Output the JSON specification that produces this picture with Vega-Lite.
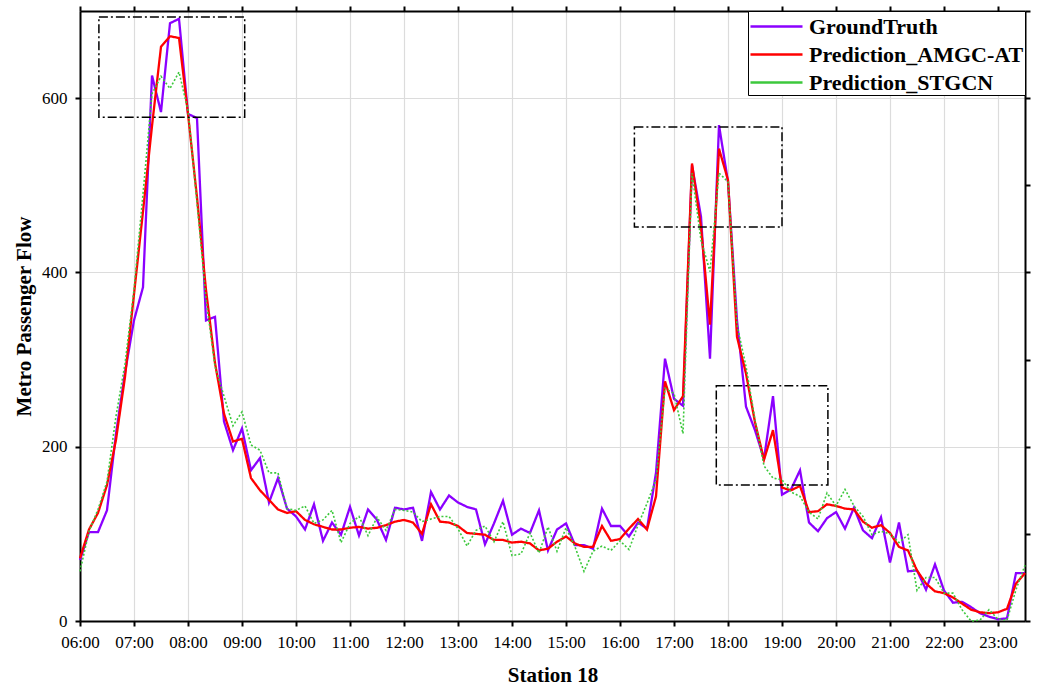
{
  "width": 945,
  "height": 610,
  "autosize": {"type": "none"},
  "padding": {"left": 80, "top": 11, "right": 16, "bottom": 70},
  "background": "white",
  "config": {
    "view": {"stroke": null},
    "axis": {
      "labelFont": "Liberation Serif",
      "labelFontSize": 17,
      "labelColor": "black",
      "titleFont": "Liberation Serif",
      "titleFontSize": 21,
      "titleFontWeight": "bold",
      "titleColor": "black",
      "domainColor": "black",
      "domainWidth": 2,
      "tickColor": "black",
      "tickWidth": 2,
      "gridColor": "#dcdcdc",
      "gridWidth": 1.2
    },
    "legend": {
      "orient": "top-right",
      "offset": 0,
      "strokeColor": "black",
      "fillColor": "white",
      "padding": 1,
      "labelFont": "Liberation Serif",
      "labelFontWeight": "bold",
      "labelFontSize": 22,
      "labelColor": "black",
      "labelLimit": 400,
      "labelOffset": 31,
      "symbolType": "M-1,0H3",
      "symbolSize": 676,
      "symbolStrokeWidth": 2.5,
      "rowPadding": 2
    }
  },
  "datasets": {
    "flow": [
      {"t":"06:00","GroundTruth":70,"Prediction_AMGC-AT":72,"Prediction_STGCN":57},
      {"t":"06:10","GroundTruth":102,"Prediction_AMGC-AT":105,"Prediction_STGCN":103},
      {"t":"06:20","GroundTruth":102,"Prediction_AMGC-AT":124,"Prediction_STGCN":128},
      {"t":"06:30","GroundTruth":127,"Prediction_AMGC-AT":156,"Prediction_STGCN":160},
      {"t":"06:40","GroundTruth":215,"Prediction_AMGC-AT":208,"Prediction_STGCN":235},
      {"t":"06:50","GroundTruth":285,"Prediction_AMGC-AT":280,"Prediction_STGCN":295},
      {"t":"07:00","GroundTruth":345,"Prediction_AMGC-AT":375,"Prediction_STGCN":380},
      {"t":"07:10","GroundTruth":383,"Prediction_AMGC-AT":470,"Prediction_STGCN":490},
      {"t":"07:20","GroundTruth":626,"Prediction_AMGC-AT":568,"Prediction_STGCN":605},
      {"t":"07:30","GroundTruth":584,"Prediction_AMGC-AT":659,"Prediction_STGCN":625},
      {"t":"07:40","GroundTruth":686,"Prediction_AMGC-AT":671,"Prediction_STGCN":611},
      {"t":"07:50","GroundTruth":691,"Prediction_AMGC-AT":669,"Prediction_STGCN":630},
      {"t":"08:00","GroundTruth":582,"Prediction_AMGC-AT":582,"Prediction_STGCN":586},
      {"t":"08:10","GroundTruth":577,"Prediction_AMGC-AT":486,"Prediction_STGCN":480},
      {"t":"08:20","GroundTruth":345,"Prediction_AMGC-AT":380,"Prediction_STGCN":370},
      {"t":"08:30","GroundTruth":349,"Prediction_AMGC-AT":296,"Prediction_STGCN":292},
      {"t":"08:40","GroundTruth":229,"Prediction_AMGC-AT":238,"Prediction_STGCN":258},
      {"t":"08:50","GroundTruth":196,"Prediction_AMGC-AT":206,"Prediction_STGCN":224},
      {"t":"09:00","GroundTruth":221,"Prediction_AMGC-AT":209,"Prediction_STGCN":240},
      {"t":"09:10","GroundTruth":173,"Prediction_AMGC-AT":164,"Prediction_STGCN":202},
      {"t":"09:20","GroundTruth":187,"Prediction_AMGC-AT":150,"Prediction_STGCN":196},
      {"t":"09:30","GroundTruth":136,"Prediction_AMGC-AT":139,"Prediction_STGCN":170},
      {"t":"09:40","GroundTruth":164,"Prediction_AMGC-AT":128,"Prediction_STGCN":170},
      {"t":"09:50","GroundTruth":129,"Prediction_AMGC-AT":124,"Prediction_STGCN":129},
      {"t":"10:00","GroundTruth":120,"Prediction_AMGC-AT":126,"Prediction_STGCN":127},
      {"t":"10:10","GroundTruth":105,"Prediction_AMGC-AT":116,"Prediction_STGCN":132},
      {"t":"10:20","GroundTruth":134,"Prediction_AMGC-AT":111,"Prediction_STGCN":112},
      {"t":"10:30","GroundTruth":92,"Prediction_AMGC-AT":108,"Prediction_STGCN":116},
      {"t":"10:40","GroundTruth":113,"Prediction_AMGC-AT":105,"Prediction_STGCN":127},
      {"t":"10:50","GroundTruth":99,"Prediction_AMGC-AT":105,"Prediction_STGCN":90},
      {"t":"11:00","GroundTruth":131,"Prediction_AMGC-AT":107,"Prediction_STGCN":112},
      {"t":"11:10","GroundTruth":98,"Prediction_AMGC-AT":108,"Prediction_STGCN":120},
      {"t":"11:20","GroundTruth":128,"Prediction_AMGC-AT":106,"Prediction_STGCN":98},
      {"t":"11:30","GroundTruth":116,"Prediction_AMGC-AT":107,"Prediction_STGCN":119},
      {"t":"11:40","GroundTruth":93,"Prediction_AMGC-AT":110,"Prediction_STGCN":104},
      {"t":"11:50","GroundTruth":130,"Prediction_AMGC-AT":114,"Prediction_STGCN":128},
      {"t":"12:00","GroundTruth":128,"Prediction_AMGC-AT":116,"Prediction_STGCN":127},
      {"t":"12:10","GroundTruth":130,"Prediction_AMGC-AT":113,"Prediction_STGCN":125},
      {"t":"12:20","GroundTruth":92,"Prediction_AMGC-AT":100,"Prediction_STGCN":114},
      {"t":"12:30","GroundTruth":148,"Prediction_AMGC-AT":134,"Prediction_STGCN":117},
      {"t":"12:40","GroundTruth":128,"Prediction_AMGC-AT":114,"Prediction_STGCN":120},
      {"t":"12:50","GroundTruth":144,"Prediction_AMGC-AT":113,"Prediction_STGCN":120},
      {"t":"13:00","GroundTruth":136,"Prediction_AMGC-AT":109,"Prediction_STGCN":106},
      {"t":"13:10","GroundTruth":131,"Prediction_AMGC-AT":101,"Prediction_STGCN":86},
      {"t":"13:20","GroundTruth":128,"Prediction_AMGC-AT":100,"Prediction_STGCN":104},
      {"t":"13:30","GroundTruth":88,"Prediction_AMGC-AT":99,"Prediction_STGCN":109},
      {"t":"13:40","GroundTruth":112,"Prediction_AMGC-AT":93,"Prediction_STGCN":91},
      {"t":"13:50","GroundTruth":138,"Prediction_AMGC-AT":93,"Prediction_STGCN":114},
      {"t":"14:00","GroundTruth":99,"Prediction_AMGC-AT":90,"Prediction_STGCN":75},
      {"t":"14:10","GroundTruth":106,"Prediction_AMGC-AT":91,"Prediction_STGCN":77},
      {"t":"14:20","GroundTruth":101,"Prediction_AMGC-AT":89,"Prediction_STGCN":101},
      {"t":"14:30","GroundTruth":127,"Prediction_AMGC-AT":81,"Prediction_STGCN":78},
      {"t":"14:40","GroundTruth":81,"Prediction_AMGC-AT":83,"Prediction_STGCN":108},
      {"t":"14:50","GroundTruth":105,"Prediction_AMGC-AT":91,"Prediction_STGCN":80},
      {"t":"15:00","GroundTruth":112,"Prediction_AMGC-AT":97,"Prediction_STGCN":107},
      {"t":"15:10","GroundTruth":87,"Prediction_AMGC-AT":89,"Prediction_STGCN":85},
      {"t":"15:20","GroundTruth":87,"Prediction_AMGC-AT":85,"Prediction_STGCN":57},
      {"t":"15:30","GroundTruth":83,"Prediction_AMGC-AT":85,"Prediction_STGCN":80},
      {"t":"15:40","GroundTruth":129,"Prediction_AMGC-AT":109,"Prediction_STGCN":86},
      {"t":"15:50","GroundTruth":109,"Prediction_AMGC-AT":92,"Prediction_STGCN":81},
      {"t":"16:00","GroundTruth":109,"Prediction_AMGC-AT":94,"Prediction_STGCN":92},
      {"t":"16:10","GroundTruth":97,"Prediction_AMGC-AT":106,"Prediction_STGCN":82},
      {"t":"16:20","GroundTruth":113,"Prediction_AMGC-AT":117,"Prediction_STGCN":110},
      {"t":"16:30","GroundTruth":106,"Prediction_AMGC-AT":105,"Prediction_STGCN":135},
      {"t":"16:40","GroundTruth":170,"Prediction_AMGC-AT":143,"Prediction_STGCN":162},
      {"t":"16:50","GroundTruth":301,"Prediction_AMGC-AT":275,"Prediction_STGCN":267},
      {"t":"17:00","GroundTruth":255,"Prediction_AMGC-AT":242,"Prediction_STGCN":261},
      {"t":"17:10","GroundTruth":247,"Prediction_AMGC-AT":258,"Prediction_STGCN":215},
      {"t":"17:20","GroundTruth":523,"Prediction_AMGC-AT":525,"Prediction_STGCN":514},
      {"t":"17:30","GroundTruth":464,"Prediction_AMGC-AT":452,"Prediction_STGCN":437},
      {"t":"17:40","GroundTruth":301,"Prediction_AMGC-AT":340,"Prediction_STGCN":401},
      {"t":"17:50","GroundTruth":569,"Prediction_AMGC-AT":542,"Prediction_STGCN":514},
      {"t":"18:00","GroundTruth":504,"Prediction_AMGC-AT":506,"Prediction_STGCN":504},
      {"t":"18:10","GroundTruth":345,"Prediction_AMGC-AT":326,"Prediction_STGCN":340},
      {"t":"18:20","GroundTruth":246,"Prediction_AMGC-AT":284,"Prediction_STGCN":292},
      {"t":"18:30","GroundTruth":219,"Prediction_AMGC-AT":228,"Prediction_STGCN":231},
      {"t":"18:40","GroundTruth":186,"Prediction_AMGC-AT":185,"Prediction_STGCN":178},
      {"t":"18:50","GroundTruth":258,"Prediction_AMGC-AT":219,"Prediction_STGCN":164},
      {"t":"19:00","GroundTruth":145,"Prediction_AMGC-AT":153,"Prediction_STGCN":162},
      {"t":"19:10","GroundTruth":151,"Prediction_AMGC-AT":150,"Prediction_STGCN":148},
      {"t":"19:20","GroundTruth":173,"Prediction_AMGC-AT":155,"Prediction_STGCN":143},
      {"t":"19:30","GroundTruth":113,"Prediction_AMGC-AT":125,"Prediction_STGCN":125},
      {"t":"19:40","GroundTruth":103,"Prediction_AMGC-AT":126,"Prediction_STGCN":117},
      {"t":"19:50","GroundTruth":118,"Prediction_AMGC-AT":134,"Prediction_STGCN":147},
      {"t":"20:00","GroundTruth":125,"Prediction_AMGC-AT":132,"Prediction_STGCN":132},
      {"t":"20:10","GroundTruth":106,"Prediction_AMGC-AT":129,"Prediction_STGCN":151},
      {"t":"20:20","GroundTruth":130,"Prediction_AMGC-AT":128,"Prediction_STGCN":132},
      {"t":"20:30","GroundTruth":104,"Prediction_AMGC-AT":114,"Prediction_STGCN":120},
      {"t":"20:40","GroundTruth":95,"Prediction_AMGC-AT":107,"Prediction_STGCN":99},
      {"t":"20:50","GroundTruth":119,"Prediction_AMGC-AT":110,"Prediction_STGCN":103},
      {"t":"21:00","GroundTruth":67,"Prediction_AMGC-AT":101,"Prediction_STGCN":100},
      {"t":"21:10","GroundTruth":113,"Prediction_AMGC-AT":85,"Prediction_STGCN":90},
      {"t":"21:20","GroundTruth":57,"Prediction_AMGC-AT":81,"Prediction_STGCN":99},
      {"t":"21:30","GroundTruth":58,"Prediction_AMGC-AT":58,"Prediction_STGCN":35},
      {"t":"21:40","GroundTruth":36,"Prediction_AMGC-AT":43,"Prediction_STGCN":50},
      {"t":"21:50","GroundTruth":65,"Prediction_AMGC-AT":34,"Prediction_STGCN":50},
      {"t":"22:00","GroundTruth":35,"Prediction_AMGC-AT":32,"Prediction_STGCN":32},
      {"t":"22:10","GroundTruth":21,"Prediction_AMGC-AT":27,"Prediction_STGCN":32},
      {"t":"22:20","GroundTruth":22,"Prediction_AMGC-AT":20,"Prediction_STGCN":13},
      {"t":"22:30","GroundTruth":16,"Prediction_AMGC-AT":13,"Prediction_STGCN":0},
      {"t":"22:40","GroundTruth":9,"Prediction_AMGC-AT":10,"Prediction_STGCN":1},
      {"t":"22:50","GroundTruth":5,"Prediction_AMGC-AT":9,"Prediction_STGCN":13},
      {"t":"23:00","GroundTruth":2,"Prediction_AMGC-AT":10,"Prediction_STGCN":2},
      {"t":"23:10","GroundTruth":3,"Prediction_AMGC-AT":14,"Prediction_STGCN":1},
      {"t":"23:20","GroundTruth":55,"Prediction_AMGC-AT":43,"Prediction_STGCN":36},
      {"t":"23:30","GroundTruth":55,"Prediction_AMGC-AT":55,"Prediction_STGCN":64}
    ],
    "boxes": [
      {"x1":"06:21","x2":"09:03","y1":578,"y2":693},
      {"x1":"16:16","x2":"19:00","y1":452,"y2":567},
      {"x1":"17:47","x2":"19:51","y1":156,"y2":270}
    ]
  },
  "data": {"name": "flow", "format": {"parse": {"t": "date:'%H:%M'"}}},
  "transform": [
    {"fold": ["GroundTruth", "Prediction_AMGC-AT", "Prediction_STGCN"], "as": ["series", "flow"]}
  ],
  "resolve": {"axis": {"x": "independent", "y": "independent"}},
  "layer": [
    {
      "mark": {"type": "line"},
      "encoding": {
        "x": {"field": "t", "type": "temporal",
          "scale": {"domain": [{"year": 1900, "month": 1, "date": 1, "hours": 6}, {"year": 1900, "month": 1, "date": 1, "hours": 23, "minutes": 30}]},
          "axis": {"orient": "bottom", "title": "Station 18", "titlePadding": 14,
            "tickCount": 18, "format": "%H:%M", "labelPadding": 8, "tickSize": 5,
            "labelFlush": false, "labelOverlap": false, "grid": true}},
        "y": {"field": "flow", "type": "quantitative",
          "scale": {"domain": [0, 700], "nice": false},
          "axis": {"orient": "left", "title": "Metro Passenger Flow", "titlePadding": 7,
            "values": [0, 200, 400, 600], "labelPadding": 8, "tickSize": 5, "grid": true}},
        "color": {"field": "series", "type": "nominal", "title": null,
          "scale": {"domain": ["GroundTruth", "Prediction_AMGC-AT", "Prediction_STGCN"], "range": ["#8b00ff", "#ff0000", "#3cc83c"]}},
        "strokeDash": {"condition": {"test": "datum.series === 'Prediction_STGCN'", "value": [2, 2]}, "value": [1, 0]},
        "strokeWidth": {"condition": {"test": "datum.series === 'Prediction_STGCN'", "value": 1.6}, "value": 2.3}
      }
    },
    {
      "data": {"name": "boxes", "format": {"parse": {"x1": "date:'%H:%M'", "x2": "date:'%H:%M'"}}},
      "mark": {"type": "rect", "filled": false, "stroke": "black", "strokeWidth": 1.5, "strokeDash": [9, 3, 2, 3]},
      "encoding": {
        "x": {"field": "x1", "type": "temporal",
          "axis": {"orient": "top", "labels": false, "title": null, "grid": false, "tickCount": 18, "tickSize": 5}},
        "x2": {"field": "x2"},
        "y": {"field": "y1", "type": "quantitative",
          "axis": {"orient": "right", "labels": false, "title": null, "grid": false,
            "values": [0, 100, 200, 300, 400, 500, 600, 700], "tickSize": 5}},
        "y2": {"field": "y2"}
      }
    }
  ]
}
